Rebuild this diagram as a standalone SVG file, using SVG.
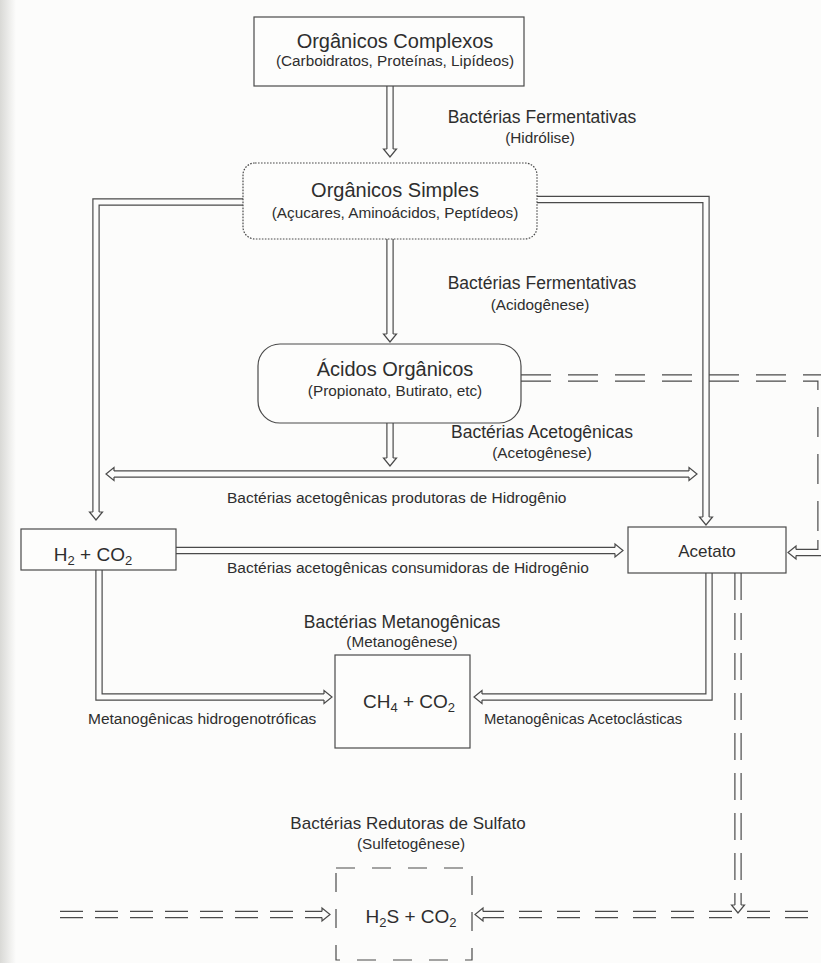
<svg xmlns="http://www.w3.org/2000/svg" xmlns:xlink="http://www.w3.org/1999/xlink" width="821" height="963" viewBox="0 0 821 963">
  <defs>
    <style>
      text { font-family: "Liberation Sans", Arial, sans-serif; fill: #2e2e2e; }
      .title { font-size: 20px; text-anchor: middle; }
      .sub { font-size: 15.3px; text-anchor: middle; }
      .lbl { font-size: 17.5px; text-anchor: middle; }
      .small { font-size: 15.5px; }
      .chem { font-size: 19px; text-anchor: middle; }
      .box { fill: #fdfdfc; stroke: #4a4a4a; stroke-width: 1.2; }
      .dotted { stroke-dasharray: 1.6 1.4; }
      .dashedbox { fill: none; stroke-dasharray: 19 17; }
      /* double-line connectors: dark outer stroke, light core */
      .pipe { fill: none; stroke: #4a4a4a; stroke-width: 7.4; stroke-linejoin: miter; }
      .core { fill: none; stroke: #fcfcfb; stroke-width: 5; stroke-linejoin: miter; }
      .head { fill: #fcfcfb; stroke: #4a4a4a; stroke-width: 1.2; stroke-linejoin: miter; }
    </style>
    <!-- open arrowhead, tip at origin, pointing down -->
    <path id="ah" d="M-3.1 -8 H-6.5 L0 0 L6.5 -8 H3.1"/>
    <linearGradient id="edge" x1="0" y1="0" x2="1" y2="0">
      <stop offset="0" stop-color="#d9d9d6"/>
      <stop offset="1" stop-color="#fcfcfb"/>
    </linearGradient>
  </defs>

  <rect width="821" height="963" fill="#fcfcfb"/>
  <rect width="16" height="963" fill="url(#edge)"/>

  <g id="connectors">
    <!-- dashed feeds -->
    <g stroke-dasharray="30 17">
      <path class="pipe" d="M521 378 H821 V546"/>
      <path class="core" d="M521 378 H821 V546"/>
    </g>
    <g stroke-dasharray="27 13">
      <path class="pipe" d="M738 573 V905"/>
      <path class="core" d="M738 573 V905"/>
    </g>
    <g stroke-dasharray="23 12">
      <path class="pipe" d="M60 914.5 H322"/>
      <path class="core" d="M60 914.5 H322"/>
    </g>
    <g stroke-dasharray="23 15">
      <path class="pipe" d="M808 914.5 H483"/>
      <path class="core" d="M808 914.5 H483"/>
    </g>

    <!-- solid feeds -->
    <path class="pipe" d="M821 540 V552.5 H796"/>
    <path class="core" d="M821 540 V552.5 H796"/>

    <path class="pipe" d="M390 86 V149"/>
    <path class="core" d="M390 86 V149"/>

    <path class="pipe" d="M390 239 V334"/>
    <path class="core" d="M390 239 V334"/>

    <path class="pipe" d="M390 423 V458"/>
    <path class="core" d="M390 423 V458"/>

    <path class="pipe" d="M243 202 H96 V512"/>
    <path class="core" d="M243 202 H96 V512"/>

    <path class="pipe" d="M537 199.5 H706 V517"/>
    <path class="core" d="M537 199.5 H706 V517"/>

    <path class="pipe" d="M114 474 H689"/>
    <path class="core" d="M114 474 H689"/>

    <path class="pipe" d="M176 550.5 H615"/>
    <path class="core" d="M176 550.5 H615"/>

    <path class="pipe" d="M99 570 V697 H324"/>
    <path class="core" d="M99 570 V697 H324"/>

    <path class="pipe" d="M709 573 V697 H482"/>
    <path class="core" d="M709 573 V697 H482"/>

    <!-- arrowheads -->
    <use xlink:href="#ah" class="head" transform="translate(390 157)"/>
    <use xlink:href="#ah" class="head" transform="translate(390 342)"/>
    <use xlink:href="#ah" class="head" transform="translate(390 466)"/>
    <use xlink:href="#ah" class="head" transform="translate(96 520)"/>
    <use xlink:href="#ah" class="head" transform="translate(706 525)"/>
    <use xlink:href="#ah" class="head" transform="translate(106 474) rotate(90)"/>
    <use xlink:href="#ah" class="head" transform="translate(697 474) rotate(-90)"/>
    <use xlink:href="#ah" class="head" transform="translate(623 550.5) rotate(-90)"/>
    <use xlink:href="#ah" class="head" transform="translate(788 552.5) rotate(90)"/>
    <use xlink:href="#ah" class="head" transform="translate(332 697) rotate(-90)"/>
    <use xlink:href="#ah" class="head" transform="translate(474 697) rotate(90)"/>
    <use xlink:href="#ah" class="head" transform="translate(738 913)"/>
    <use xlink:href="#ah" class="head" transform="translate(330 914.5) rotate(-90)"/>
    <use xlink:href="#ah" class="head" transform="translate(475 914.5) rotate(90)"/>
  </g>

  <g id="organicos-complexos">
    <rect class="box" x="254" y="17" width="270" height="69"/>
    <text class="title" x="395" y="48">Orgânicos Complexos</text>
    <text class="sub" x="395" y="66">(Carboidratos, Proteínas, Lipídeos)</text>
  </g>

  <g id="organicos-simples">
    <rect class="box dotted" x="243" y="163" width="294" height="76" rx="12"/>
    <text class="title" x="395" y="197">Orgânicos Simples</text>
    <text class="sub" x="395" y="218">(Açucares, Aminoácidos, Peptídeos)</text>
  </g>

  <g id="acidos-organicos">
    <rect class="box" x="258" y="344" width="263" height="79" rx="22"/>
    <text class="title" x="395" y="376">Ácidos Orgânicos</text>
    <text class="sub" x="395" y="396">(Propionato, Butirato, etc)</text>
  </g>

  <g id="h2-co2">
    <rect class="box" x="21" y="529" width="155" height="41"/>
    <text class="chem" x="93" y="561">H<tspan font-size="13" dy="4">2</tspan><tspan dy="-4"> + CO</tspan><tspan font-size="13" dy="4">2</tspan></text>
  </g>

  <g id="acetato">
    <rect class="box" x="628" y="527" width="158" height="46"/>
    <text class="lbl" x="707" y="557" style="font-size:17px">Acetato</text>
  </g>

  <g id="ch4-co2">
    <rect class="box" x="335" y="655" width="135" height="93"/>
    <text class="chem" x="409" y="708">CH<tspan font-size="13" dy="4">4</tspan><tspan dy="-4"> + CO</tspan><tspan font-size="13" dy="4">2</tspan></text>
  </g>

  <g id="h2s-co2">
    <rect class="box dashedbox" x="336" y="868" width="136" height="92"/>
    <text class="chem" x="411" y="923">H<tspan font-size="13" dy="4">2</tspan><tspan dy="-4">S + CO</tspan><tspan font-size="13" dy="4">2</tspan></text>
  </g>

  <g id="labels">
    <text class="lbl" x="542" y="123">Bactérias Fermentativas</text>
    <text class="sub" x="540" y="143">(Hidrólise)</text>
    <text class="lbl" x="542" y="289">Bactérias Fermentativas</text>
    <text class="sub" x="540" y="310">(Acidogênese)</text>
    <text class="lbl" x="542" y="438">Bactérias Acetogênicas</text>
    <text class="sub" x="542" y="458">(Acetogênese)</text>
    <text class="small" x="227" y="503">Bactérias acetogênicas produtoras de Hidrogênio</text>
    <text class="small" x="227" y="573">Bactérias acetogênicas consumidoras de Hidrogênio</text>
    <text class="lbl" x="402" y="628">Bactérias Metanogênicas</text>
    <text class="sub" x="402" y="647">(Metanogênese)</text>
    <text class="small" x="88" y="724">Metanogênicas hidrogenotróficas</text>
    <text class="small" x="484" y="724" style="font-size:14.8px">Metanogênicas Acetoclásticas</text>
    <text class="lbl" x="408" y="829" style="font-size:17px">Bactérias Redutoras de Sulfato</text>
    <text class="sub" x="411" y="849">(Sulfetogênese)</text>
  </g>
</svg>
